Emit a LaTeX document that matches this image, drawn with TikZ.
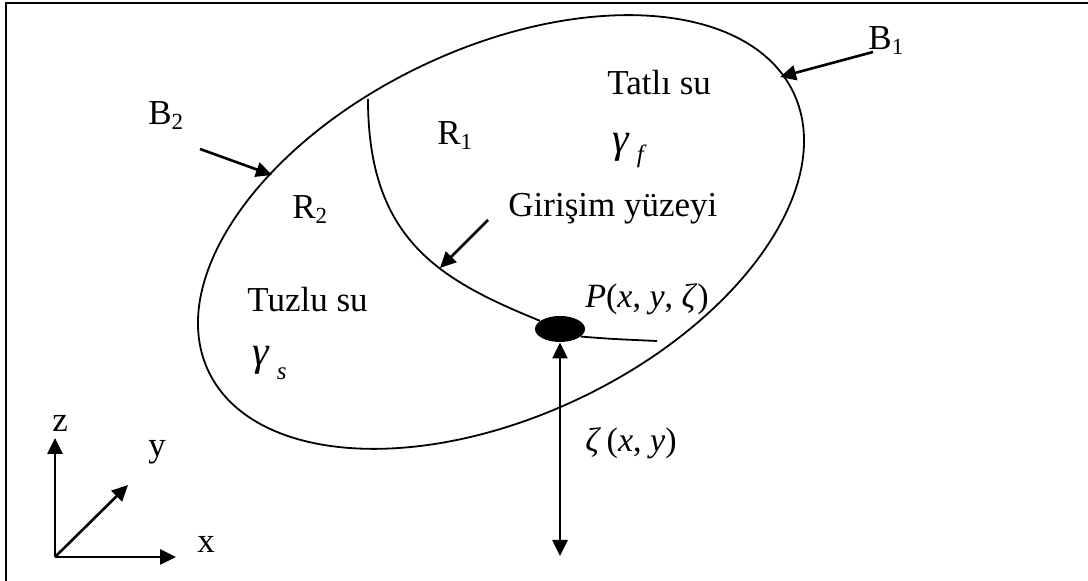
\documentclass[tikz,border=0pt]{standalone}
\usepackage{fontspec}
\setmainfont{Liberation Serif}
\usetikzlibrary{arrows.meta,shapes.geometric}
\newcommand\mysbs[1]{\raisebox{-2.5pt}{\fontsize{11.5}{12}\selectfont #1}}
\begin{document}
\begin{tikzpicture}[x=0.5pt,y=-0.5pt,
  lbl/.style={anchor=base west,inner sep=0pt,font=\fontsize{17.5}{20}\selectfont},
  mlbl/.style={anchor=base west,inner sep=0pt,font=\fontsize{17}{19}\selectfont},
  glbl/.style={anchor=base west,inner sep=0pt,font=\fontsize{21}{24}\selectfont\itshape},
  arr/.style={line width=1.3pt,-{Triangle[length=8pt,width=7.5pt]}},
  darr/.style={line width=1.3pt,{Triangle[length=8pt,width=7.5pt]}-{Triangle[length=8pt,width=7.5pt]}},
  curve/.style={line width=0.9pt},
  frame/.style={line width=1.2pt},
  dotnode/.style={ellipse,fill=black,inner sep=0pt,minimum width=25pt,minimum height=13pt}]
\useasboundingbox (0,0) rectangle (1088,581);
% frame
\draw[frame] (1088,3) -- (6,3) -- (6,581);
% outer boundary
\draw[curve,rotate around={25.5:(501,232)}] (501,232) ellipse [x radius=162pt,y radius=92pt];
% point P
\node[dotnode] (P) at (560,329) {};
% interface
\coordinate (itop) at (368,99);
\coordinate (tail) at (657,341);
\draw[curve] (itop) .. controls (368,240) and (440,280) .. (P);
\draw[curve] (P.-20) .. controls (612,339) .. (tail);
% zeta arrow
\coordinate (zb) at (560,556);
\draw[darr] (P.south) -- (zb);
% B arrows
\coordinate (b1s) at (873,52);
\coordinate (b1e) at (780,77);
\draw[arr] (b1s) -- (b1e);
\coordinate (b2s) at (200,149);
\coordinate (b2e) at (272,175);
\draw[arr] (b2s) -- (b2e);
\coordinate (gs) at (488,220);
\coordinate (ge) at (440,268);
\draw[arr] (gs) -- (ge);
% axes
\coordinate (O) at (55,557);
\coordinate (zt) at (55,438);
\coordinate (xt) at (176,557);
\coordinate (yt) at (128,485);
\draw[arr] (O) -- (zt);
\draw[arr] (O) -- (xt);
\draw[arr] (O) -- (yt);
% labels
\node[lbl] (B1) at (868,50) {B\mysbs{1}};
\node[lbl] (B2) at (148,125) {B\mysbs{2}};
\node[lbl] (R1) at (437,145) {R\mysbs{1}};
\node[lbl] (R2) at (292,219) {R\mysbs{2}};
\node[lbl] (tatli) at (607,95) {Tatlı su};
\node[glbl] (gf) at (612,153) {γ\hspace{4pt}\raisebox{-5pt}{\fontsize{12.5}{13}\selectfont f}};
\node[lbl] (giris) at (508,217) {Girişim yüzeyi};
\node[lbl] (tuzlu) at (247,312) {Tuzlu su};
\node[glbl] (gs2) at (252,366) {γ\hspace{4pt}\raisebox{-7pt}{\fontsize{12.5}{13}\selectfont s}};
\node[mlbl] (Plbl) at (585,308) {\textit{P}(\textit{x}, \textit{y}, \textit{ζ})};
\node[mlbl] (zlbl) at (585,452) {\textit{ζ}\,(\textit{x}, \textit{y})};
\node[lbl] (zax) at (52,432) {z};
\node[lbl] (yax) at (148,457) {y};
\node[lbl] (xax) at (197,553) {x};
\end{tikzpicture}
\end{document}
